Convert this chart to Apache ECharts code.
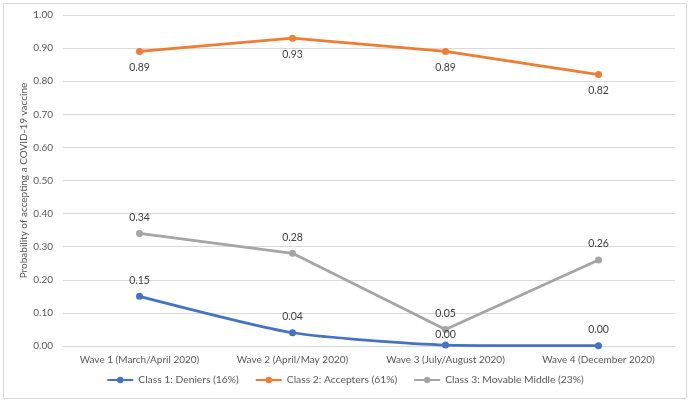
<!DOCTYPE html>
<html><head><meta charset="utf-8">
<script src="https://cdn.jsdelivr.net/npm/echarts@6/dist/echarts.min.js"></script>
<style>html,body{margin:0;padding:0;background:#fff}#c{width:690px;height:402px}</style>
</head><body><div id="c"></div>
<script>
const categories = ['Wave 1 (March/April 2020)', 'Wave 2 (April/May 2020)', 'Wave 3 (July/August 2020)', 'Wave 4 (December 2020)'];
const deniers = [0.15, 0.04, 0.003, 0.001];
const accepters = [0.89, 0.93, 0.89, 0.82];
const movable = [0.34, 0.28, 0.05, 0.26];
const seriesNames = ['Class 1: Deniers (16%)', 'Class 2: Accepters (61%)', 'Class 3: Movable Middle (23%)'];

const chart = echarts.init(document.getElementById('c'));
const font = 'Lato, "Open Sans", sans-serif';
const fs = 10;
function mk(name, data, color, pos, extra) {
  return Object.assign({
    name, type: 'line',
    data: data.map((v, i) => (name === seriesNames[0] && i === 2)
      ? { value: v, label: { distance: 1 } } : v),
    symbol: 'circle', symbolSize: 7,
    lineStyle: { width: 2.75, color },
    itemStyle: { color },
    label: { show: true, position: pos, distance: 7, color: '#404040', fontSize: 10.5, fontFamily: font,
      formatter: p => p.value.toFixed(2) }
  }, extra || {});
}
chart.setOption({
  animation: false,
  textStyle: { fontFamily: font },
  graphic: [{ type: 'rect', shape: { x: 3.5, y: 3.5, width: 683, height: 395 }, style: { fill: 'none', stroke: '#d9d9d9', lineWidth: 1 } }],
  grid: { left: 63, right: 15, top: 15, bottom: 56 },
  legend: {
    bottom: 12, itemWidth: 26, itemHeight: 8, itemGap: 16,
    textStyle: { color: '#595959', fontSize: 10.3, fontFamily: font },
    data: seriesNames
  },
  xAxis: {
    type: 'category', data: categories, boundaryGap: true,
    axisLine: { show: true, lineStyle: { color: '#d9d9d9', width: 1 } },
    axisTick: { show: false },
    axisLabel: { color: '#595959', fontSize: fs, fontFamily: font, margin: 9, interval: 0 }
  },
  yAxis: {
    type: 'value', min: 0, max: 1, interval: 0.1,
    name: 'Probability of accepting a COVID-19 vaccine', nameLocation: 'middle', nameGap: 34,
    nameMoveOverlap: false,
    nameTextStyle: { color: '#595959', fontSize: fs, fontFamily: font },
    axisLine: { show: false }, axisTick: { show: false },
    axisLabel: { color: '#595959', fontSize: fs, fontFamily: font, margin: 10, formatter: v => v.toFixed(2) },
    splitLine: { lineStyle: { color: '#d9d9d9', width: 1 } }
  },
  series: [
    mk(seriesNames[0], deniers, '#4472C4', 'top', { smooth: 0.2 }),
    mk(seriesNames[1], accepters, '#ED7D31', 'bottom'),
    mk(seriesNames[2], movable, '#A5A5A5', 'top')
  ]
});
</script></body></html>
